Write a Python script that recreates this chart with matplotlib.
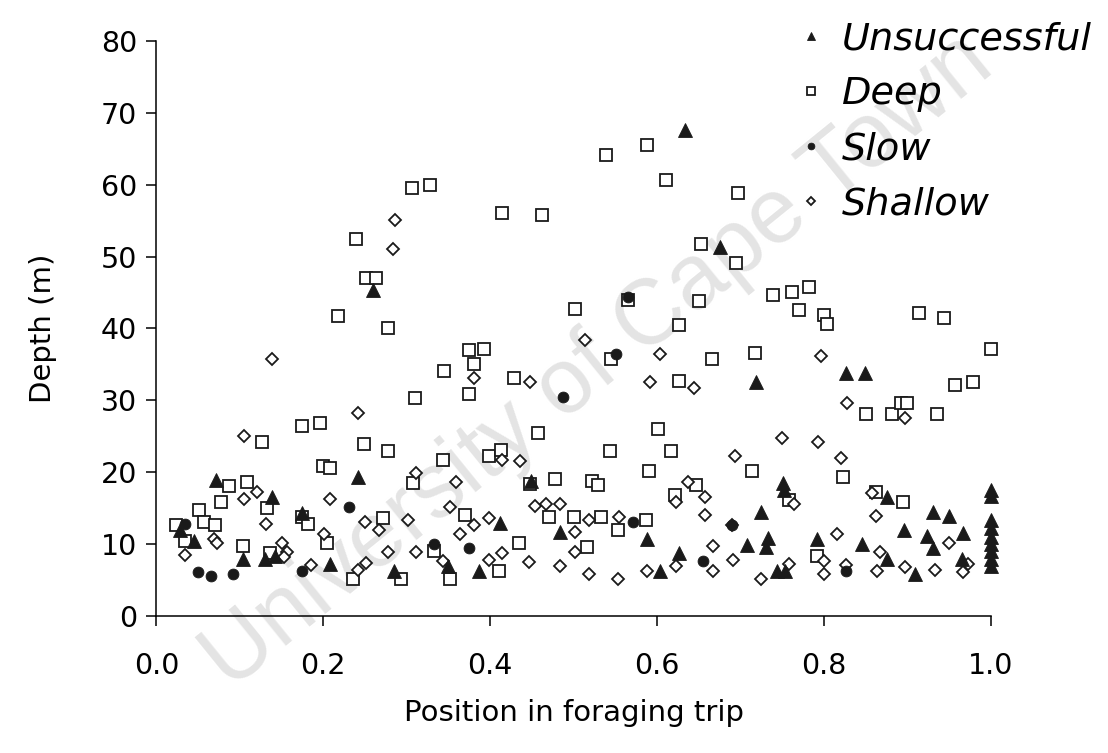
import matplotlib.pyplot as plt

# Unsuccessful dives (position in trip, depth in m)
unsucc_pos = [0.028, 0.045, 0.071, 0.104, 0.130, 0.142, 0.139, 0.174, 0.208, 0.242,
              0.260, 0.285, 0.349, 0.386, 0.412, 0.449, 0.484, 0.588, 0.603, 0.626,
              0.633, 0.675, 0.708, 0.719, 0.724, 0.733, 0.730, 0.743, 0.753, 0.751,
              0.752, 0.792, 0.826, 0.849, 0.846, 0.875, 0.875, 0.896, 0.909, 0.923,
              0.931, 0.931, 0.950, 0.965, 0.967,
              1.0, 1.0, 1.0, 1.0, 1.0, 1.0, 1.0, 1.0, 1.0]
unsucc_depth = [12.0, 10.5, 18.9, 7.9, 8.0, 8.3, 16.5, 14.3, 7.3, 19.4,
                45.3, 6.3, 6.9, 6.2, 13.0, 18.8, 11.7, 10.7, 6.2, 8.8,
                67.6, 51.4, 9.9, 32.5, 14.5, 10.8, 9.6, 6.2, 6.2, 18.5,
                17.6, 10.7, 33.8, 33.8, 10.0, 16.6, 8.0, 11.9, 5.8, 11.2,
                9.4, 14.5, 13.9, 8.0, 11.6,
                17.6, 16.7, 13.3, 12.2, 11.0, 10.0, 9.0, 8.0, 7.0]

# Deep dives
deep_pos = [0.023, 0.034, 0.051, 0.057, 0.070, 0.077, 0.087, 0.104, 0.109, 0.126,
            0.133, 0.136, 0.174, 0.174, 0.181, 0.196, 0.200, 0.208, 0.204, 0.218,
            0.236, 0.239, 0.249, 0.251, 0.263, 0.271, 0.277, 0.277, 0.293, 0.306,
            0.307, 0.310, 0.328, 0.333, 0.343, 0.344, 0.352, 0.370, 0.375, 0.375,
            0.392, 0.380, 0.398, 0.413, 0.410, 0.414, 0.428, 0.435, 0.448, 0.457,
            0.462, 0.470, 0.478, 0.500, 0.501, 0.516, 0.522, 0.529, 0.533, 0.539,
            0.543, 0.545, 0.553, 0.565, 0.587, 0.588, 0.590, 0.601, 0.610, 0.616,
            0.621, 0.626, 0.626, 0.647, 0.650, 0.653, 0.666, 0.695, 0.697, 0.714,
            0.717, 0.739, 0.758, 0.762, 0.770, 0.782, 0.792, 0.800, 0.804, 0.823,
            0.850, 0.862, 0.881, 0.892, 0.899, 0.895, 0.914, 0.935, 0.944, 0.957,
            0.979, 1.0]
deep_depth = [12.6, 10.5, 14.7, 13.1, 12.6, 15.9, 18.1, 9.8, 18.7, 24.2,
              15.0, 8.7, 26.5, 13.8, 12.8, 26.9, 20.9, 20.6, 10.2, 41.7,
              5.1, 52.4, 23.9, 47.0, 47.0, 13.7, 22.9, 40.0, 5.1, 59.5,
              18.5, 30.3, 60.0, 9.0, 21.7, 34.1, 5.1, 14.1, 30.9, 37.0,
              37.2, 35.1, 22.2, 23.1, 6.3, 56.1, 33.1, 10.2, 18.3, 25.5,
              55.8, 13.8, 19.1, 13.8, 42.7, 9.6, 18.8, 18.2, 13.8, 64.1,
              23.0, 35.7, 12.0, 44.0, 13.4, 65.5, 20.2, 26.0, 60.7, 23.0,
              16.9, 32.7, 40.5, 18.2, 43.8, 51.8, 35.7, 49.1, 58.8, 20.2,
              36.6, 44.6, 16.2, 45.1, 42.6, 45.8, 8.3, 41.9, 40.6, 19.4,
              28.1, 17.3, 28.1, 29.6, 29.7, 15.8, 42.2, 28.1, 41.5, 32.1,
              32.6, 37.2]

# Slow dives
slow_pos = [0.034, 0.050, 0.065, 0.092, 0.174, 0.231, 0.333, 0.374, 0.487, 0.551,
            0.565, 0.571, 0.655, 0.690, 0.826]
slow_depth = [12.8, 6.1, 5.5, 5.8, 6.3, 15.2, 10.0, 9.4, 30.5, 36.5,
              44.4, 13.1, 7.6, 12.6, 6.2]

# Shallow dives
shallow_pos = [0.034, 0.069, 0.073, 0.105, 0.105, 0.120, 0.131, 0.139, 0.150, 0.156,
               0.153, 0.185, 0.201, 0.208, 0.242, 0.242, 0.251, 0.250, 0.267, 0.277,
               0.283, 0.286, 0.301, 0.311, 0.311, 0.343, 0.352, 0.359, 0.364, 0.380,
               0.380, 0.399, 0.399, 0.414, 0.414, 0.436, 0.447, 0.448, 0.454, 0.467,
               0.484, 0.484, 0.501, 0.501, 0.514, 0.518, 0.518, 0.553, 0.554, 0.588,
               0.591, 0.603, 0.622, 0.622, 0.637, 0.644, 0.657, 0.657, 0.667, 0.667,
               0.690, 0.691, 0.693, 0.724, 0.750, 0.758, 0.764, 0.793, 0.796, 0.800,
               0.800, 0.816, 0.820, 0.826, 0.827, 0.858, 0.862, 0.863, 0.867, 0.897,
               0.897, 0.933, 0.950, 0.972, 0.967]
shallow_depth = [8.5, 10.7, 10.2, 25.1, 16.3, 17.3, 12.8, 35.7, 10.1, 8.9,
                 8.2, 7.1, 11.4, 16.3, 28.2, 6.4, 7.4, 13.1, 12.0, 8.9,
                 51.1, 55.1, 13.4, 19.9, 8.9, 7.6, 15.2, 18.7, 11.4, 12.6,
                 33.1, 13.7, 7.8, 21.7, 8.7, 21.5, 7.5, 32.6, 15.3, 15.6,
                 15.6, 6.9, 11.7, 8.9, 38.4, 13.4, 5.8, 5.1, 13.8, 6.3,
                 32.6, 36.4, 6.9, 15.8, 18.7, 31.7, 16.6, 14.1, 9.7, 6.3,
                 12.6, 7.8, 22.2, 5.1, 24.8, 7.3, 15.6, 24.2, 36.2, 7.6,
                 5.8, 11.4, 22.0, 7.1, 29.7, 17.1, 13.9, 6.2, 8.9, 27.6,
                 6.8, 6.4, 10.1, 7.2, 6.1]

xticks = [0.0, 0.2, 0.4, 0.6, 0.8, 1.0]
yticks = [0, 10, 20, 30, 40, 50, 60, 70, 80]

plt.rcParams['font.family'] = ['DejaVu Sans']
ink = '#1a1a1a'

fig = plt.figure(figsize=(11.08, 7.53), dpi=100)
ax = fig.add_axes([0.1412, 0.1819, 0.7532, 0.7637])

# faint diagonal stamp behind the data
ax.text(0.540, 0.519, 'University of Cape Town', transform=fig.transFigure,
        rotation=39, rotation_mode='anchor', ha='center', va='center',
        fontsize=66, family='Liberation Sans', color='#e4e4e4', zorder=0.5)

kw = dict(linestyle='none', clip_on=False, zorder=3)
ax.plot(deep_pos, deep_depth, marker='s', ms=8.6, mfc='white', mec=ink, mew=1.3,
        label='Deep', **kw)
ax.plot(shallow_pos, shallow_depth, marker='D', ms=6.2, mfc='white', mec=ink, mew=1.3,
        label='Shallow', **kw)
ax.plot(unsucc_pos, unsucc_depth, marker='^', ms=9.4, mfc=ink, mec=ink, mew=0.6,
        label='Unsuccessful', **kw)
ax.plot(slow_pos, slow_depth, marker='o', ms=7.8, mfc=ink, mec=ink, mew=0.6,
        label='Slow', **kw)

ax.set_xlim(0, 1.0)
ax.set_ylim(0, 80)
ax.set_xticks(xticks)
ax.set_xticklabels([f'{v:.1f}' for v in xticks])
ax.set_yticks(yticks)
for side in ('top', 'right'):
    ax.spines[side].set_visible(False)
for side in ('left', 'bottom'):
    ax.spines[side].set_linewidth(1.1)
ax.tick_params(axis='both', direction='out', length=7, width=1.1, labelsize=20.5)
ax.tick_params(axis='x', pad=19)
ax.tick_params(axis='y', pad=7)

ax.set_xlabel('Position in foraging trip', fontsize=21)
ax.set_ylabel('Depth (m)', fontsize=21)
ax.xaxis.set_label_coords(0.5, -0.169)
ax.xaxis.label.set_va('center')
ax.yaxis.set_label_coords(-0.136, 0.5)
ax.yaxis.label.set_va('center')

h, l = ax.get_legend_handles_labels()
order = [l.index(n) for n in ('Unsuccessful', 'Deep', 'Slow', 'Shallow')]
ax.legend([h[i] for i in order], [l[i] for i in order],
          loc='upper left', bbox_to_anchor=(0.722, 0.972), bbox_transform=fig.transFigure,
          frameon=False, markerscale=0.62, handlelength=0.6, handletextpad=0.5,
          borderpad=0, borderaxespad=0, labelspacing=0.5,
          prop={'style': 'italic', 'size': 27.5})

fig.savefig('out.png', dpi=100, facecolor='white')
